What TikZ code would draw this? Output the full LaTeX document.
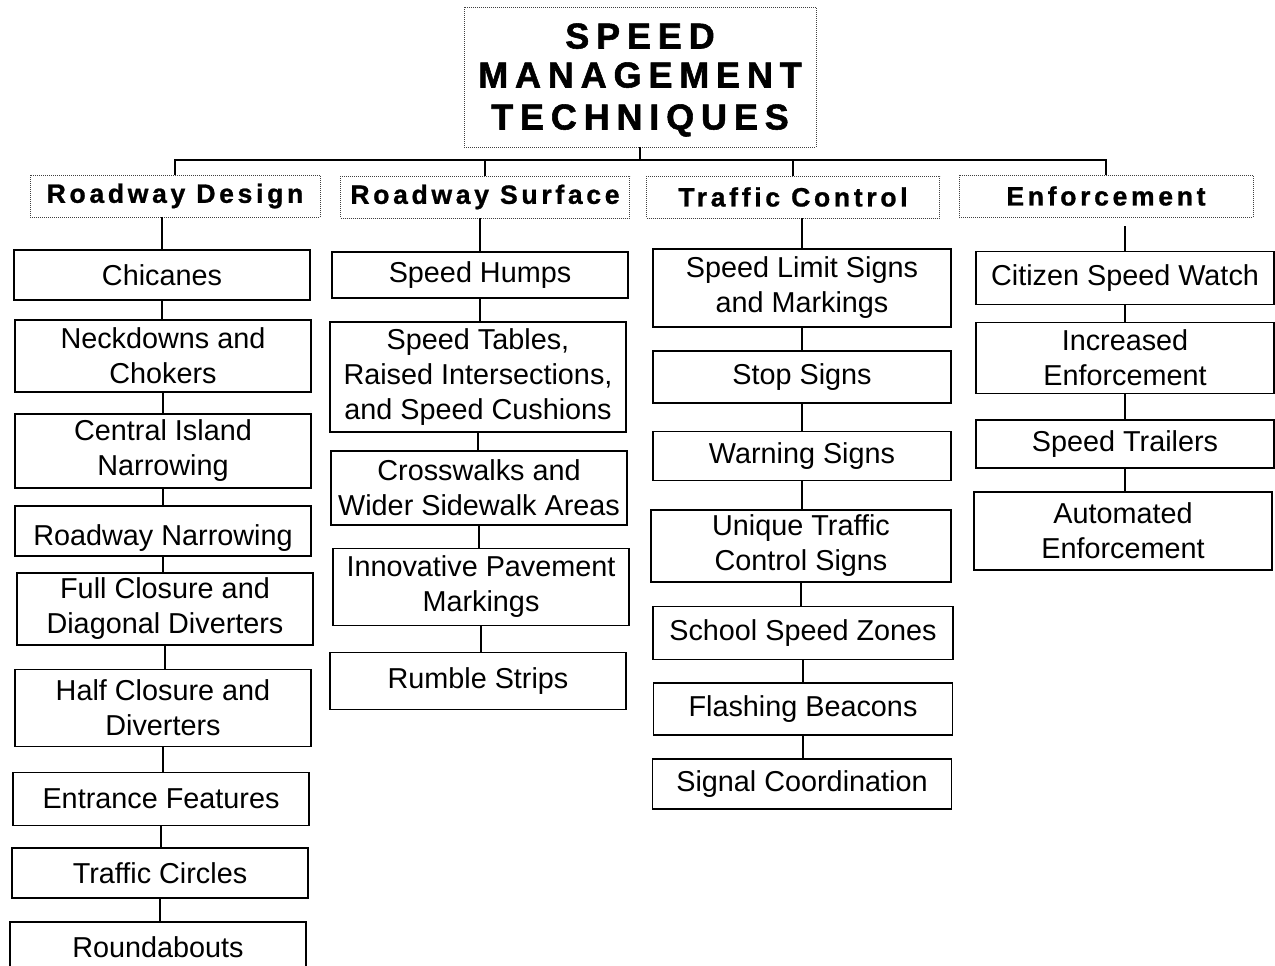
\documentclass[tikz,border=0pt]{standalone}
\usepackage{fontspec}
\setmainfont{Liberation Sans}
\newfontfamily\hdrfont[LetterSpace=14,FakeBold=1]{Liberation Sans Bold}
\newfontfamily\ttlfont[LetterSpace=19,FakeBold=1.5]{Liberation Sans Bold}
\begin{document}
\begin{tikzpicture}[x=1pt,y=-1pt,
  bx/.style={draw=black, line width=1.8pt, fill=white, inner sep=0pt, align=center,
    minimum width=296pt, font=\fontsize{28.8}{35}\selectfont},
  hdr/.style={draw=black!75, line width=0.9pt, dash pattern=on 1pt off 1pt, inner sep=0pt,
    minimum height=42pt, font=\hdrfont\fontsize{26.5}{30}\selectfont},
  ttl/.style={draw=black!75, line width=0.9pt, dash pattern=on 1pt off 1pt, inner sep=0pt,
    minimum width=352pt, minimum height=140pt, align=center, font=\ttlfont\fontsize{36}{42}\selectfont},
  conn/.style={draw=black, line width=1.5pt}]
\useasboundingbox (0,0) rectangle (1275,966);
\fill[white] (0,0) rectangle (1275,966);

% title
\node[ttl] (t) at (640,77) {\raisebox{-3pt}[26pt][8pt]{SPEED}\\MANAGEMENT\\\raisebox{0pt}[26pt][5pt]{TECHNIQUES}};
\coordinate (bar) at (640,160);

% headers
\node[hdr, minimum width=290pt] (h1) at (175,196) {Roadway Design};
\node[hdr, minimum width=289pt] (h2) at (485,197) {Roadway Surface};
\node[hdr, minimum width=293pt] (h3) at (793,197) {Traffic Control};
\node[hdr, minimum width=294pt] (h4) at (1106,196) {Enforcement};

% column 1
\node[bx, minimum height=50pt] (a1) at (162,275) {Chicanes};
\node[bx, minimum height=72pt] (a2) at (163,356) {Neckdowns and\\Chokers};
\node[bx, minimum height=74pt] (a3) at (163,451) {Central Island\\Narrowing};
\node[bx, minimum height=50pt] (a4) at (163,531) {\raisebox{-7pt}[21pt][6pt]{Roadway Narrowing}};
\node[bx, minimum height=72pt] (a5) at (165,609) {Full Closure and\\Diagonal Diverters};
\node[bx, minimum height=77pt] (a6) at (163,708) {Half Closure and\\Diverters};
\node[bx, minimum height=53pt] (a7) at (161,799) {Entrance Features};
\node[bx, minimum height=50pt] (a8) at (160,873) {Traffic Circles};
\node[bx, minimum height=50pt] (a9) at (158,947) {Roundabouts};

% column 2
\node[bx, minimum height=46pt] (b1) at (480,275) {Speed Humps};
\node[bx, minimum height=110pt] (b2) at (478,377) {Speed Tables,\\Raised Intersections,\\and Speed Cushions};
\node[bx, minimum height=74pt] (b3) at (479,488) {Crosswalks and\\Wider Sidewalk Areas};
\node[bx, minimum height=77pt] (b4) at (481,587) {Innovative Pavement\\Markings};
\node[bx, minimum height=57pt] (b5) at (478,681) {Rumble Strips};

% column 3
\node[bx, minimum width=298pt, minimum height=78pt] (c1) at (802,288) {Speed Limit Signs\\and Markings};
\node[bx, minimum width=298pt, minimum height=52pt] (c2) at (802,377) {Stop Signs};
\node[bx, minimum width=298pt, minimum height=49pt] (c3) at (802,456) {Warning Signs};
\node[bx, minimum width=300pt, minimum height=72pt] (c4) at (801,546) {Unique Traffic\\Control Signs};
\node[bx, minimum width=300pt, minimum height=53pt] (c5) at (803,633) {School Speed Zones};
\node[bx, minimum width=299pt, minimum height=52pt] (c6) at (803,709) {Flashing Beacons};
\node[bx, minimum width=299pt, minimum height=50pt] (c7) at (802,784) {Signal Coordination};

% column 4
\node[bx, minimum width=298pt, minimum height=53pt] (d1) at (1125,278) {Citizen Speed Watch};
\node[bx, minimum width=298pt, minimum height=71pt] (d2) at (1125,358) {Increased\\Enforcement};
\node[bx, minimum width=298pt, minimum height=48pt] (d3) at (1125,444) {Speed Trailers};
\node[bx, minimum width=298pt, minimum height=78pt] (d4) at (1123,531) {Automated\\Enforcement};

% tree connectors
\draw[conn] (t.south) -- (t.south |- bar);
\draw[conn] (h1.north) -- (h1.north |- bar) -- (h4.north |- bar) -- (h4.north);
\draw[conn] (h2.north) -- (h2.north |- bar);
\draw[conn] (h3.north) -- (h3.north |- bar);

\draw[conn] (a1.north |- h1.south) -- (a1.north);
\draw[conn] (b1.north |- h2.south) -- (b1.north);
\draw[conn] (c1.north |- h3.south) -- (c1.north);
\draw[conn] ([yshift=-9pt]d1.north |- h4.south) -- (d1.north);

\foreach \u/\l in {a1/a2,a2/a3,a3/a4,a4/a5,a5/a6,a6/a7,a7/a8,a8/a9,
                  b1/b2,b2/b3,b3/b4,b4/b5,
                  c1/c2,c2/c3,c3/c4,c4/c5,c5/c6,c6/c7,
                  d1/d2,d2/d3,d3/d4}
  \draw[conn] (\u.south) -- (\u.south |- \l.north);
\end{tikzpicture}
\end{document}
